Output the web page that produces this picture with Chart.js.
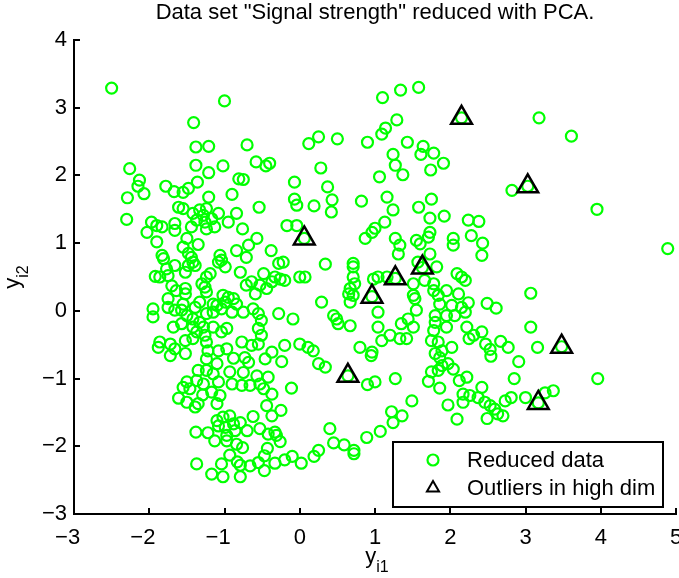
<!DOCTYPE html>
<html>
<head>
<meta charset="utf-8">
<title>Signal strength - PCA</title>
<script src="https://cdn.jsdelivr.net/npm/chart.js@4.4.1/dist/chart.umd.min.js"></script>
<style>
  html, body { margin: 0; padding: 0; background: #fff; }
  #wrap { width: 679px; height: 578px; }
</style>
</head>
<body>
<div id="wrap"><canvas id="pcaChart" width="679" height="578"></canvas></div>
<script>
// Samples projected on the first two principal components [y_i1, y_i2]
const reduced = [
  [-2.50,3.29],[-1.00,3.10],[-1.41,2.78],[-1.38,2.42],[-1.21,2.43],[-0.70,2.45],[-2.26,2.10],[-2.13,1.93],
  [-2.15,1.84],[-2.07,1.73],[-2.29,1.67],[-1.38,2.15],[-1.02,2.14],[-1.21,2.04],[-1.36,1.90],[-1.78,1.84],
  [-1.67,1.76],[-1.55,1.75],[-1.48,1.81],[-1.21,1.68],[-0.90,1.72],[-0.81,1.95],[-0.75,1.94],[-0.58,2.20],
  [-0.45,2.14],[-0.40,2.18],
  [1.10,3.15],[1.34,3.26],[1.58,3.30],[1.29,2.82],[1.14,2.70],[1.09,2.61],[0.25,2.57],[0.12,2.47],
  [0.50,2.54],[0.90,2.49],[1.43,2.49],[1.64,2.43],[1.61,2.31],[1.78,2.33],[1.91,2.18],[1.74,2.08],
  [1.24,2.31],[1.27,2.15],[1.37,2.01],[1.06,1.98],[0.28,2.11],[0.37,1.83],[-0.07,1.90],[-0.07,1.65],
  [0.43,1.64],[0.82,1.62],[1.16,1.68],[1.75,1.65],
  [3.18,2.85],[3.61,2.58],[2.82,1.78],[3.95,1.50],[4.89,0.92],[2.38,1.32],[2.24,1.34],[2.28,1.11],
  [2.43,1.00],[2.42,0.82],[3.07,0.26],[2.49,0.11],[2.61,0.04],[2.24,0.12],[3.07,-0.24],[2.42,-0.31],
  [2.31,-0.36],[2.25,-0.41],[2.47,-0.49],[2.67,-0.45],[2.77,-0.54],[2.53,-0.57],[2.54,-0.67],[3.16,-0.54],
  [2.91,-0.75],
  [3.96,-1.00],[2.85,-1.00],[2.42,-1.13],[2.37,-1.28],[2.46,-1.35],[2.53,-1.40],[2.59,-1.45],[2.70,-1.55],
  [2.49,-1.59],[2.63,-1.52],[2.73,-1.33],[2.81,-1.28],[3.00,-1.28],[3.37,-1.18],[3.26,-1.21],
  [-0.24,-0.75],[0.25,-0.78],[0.34,-0.83],[-0.42,-0.98],[-0.11,-1.14],[-0.37,-1.23],[-0.44,-1.40],[-0.25,-1.47],
  [-0.37,-1.55],[-0.33,-1.79],[-0.31,-1.84],[-0.26,-1.93],[-0.43,-2.03],[-0.47,-2.14],[-0.47,-2.36],[-0.33,-2.25],
  [-0.20,-2.20],[-0.10,-2.15],[0.02,-2.25],[0.19,-2.15],[0.25,-2.06],[0.40,-1.74],[0.45,-1.95],[0.59,-1.98],
  [0.72,-2.06],[0.72,-2.11],[0.89,-1.87],[1.07,-1.78],[1.24,-1.65],[1.22,-1.49],[1.36,-1.55],[1.49,-1.33],
  [1.27,-1.00],[0.90,-1.09],[1.00,-1.05],[1.71,-1.04],[1.86,-1.14],[1.75,-0.90],[1.84,-0.88],[1.89,-0.81],
  [1.97,-0.78],[2.04,-0.86],[2.12,-1.03],[2.22,-0.98],[2.17,-1.23],[2.26,-1.25],[1.97,-1.39],[2.17,-1.35],
  [2.09,-1.60],[0.95,-0.66],[1.86,-0.69],
  [-1.72,-0.66],[-1.52,-0.63],[-1.24,-0.71],[-1.10,-0.78],[-0.88,-0.70],[-0.73,-0.69],[-0.68,-0.76],[-0.46,-0.71],
  [-1.35,-0.88],[-1.24,-0.88],[-1.15,-0.93],[-0.93,-0.90],[-0.75,-0.91],[-1.37,-1.03],[-1.50,-1.05],[-1.55,-1.13],
  [-1.46,-1.15],[-1.28,-1.08],[-1.08,-1.05],[-0.90,-1.08],[-0.77,-1.10],[-0.66,-1.10],[-0.53,-1.08],[-0.48,-1.15],
  [-1.61,-1.29],[-1.50,-1.35],[-1.39,-1.42],[-1.35,-1.37],[-1.29,-1.24],[-1.17,-1.20],[-1.06,-1.25],[-1.10,-1.37],
  [-0.62,-1.56],[-0.53,-1.74],[-0.42,-1.82],[-1.38,-1.79],[-1.22,-1.80],[-1.10,-1.62],[-1.02,-1.57],[-0.93,-1.55],
  [-1.08,-1.70],[-0.99,-1.72],[-0.88,-1.67],[-0.79,-1.65],[-0.70,-1.77],[-0.86,-1.77],[-1.13,-1.92],[-0.97,-1.84],
  [-0.97,-1.92],[-0.84,-1.97],[-0.76,-2.02],[-0.93,-2.13],[-0.83,-2.23],[-0.79,-2.28],[-0.66,-2.29],[-0.55,-2.24],
  [-1.04,-2.26],[-1.17,-2.41],[-1.02,-2.45],[-0.79,-2.45],[-1.37,-2.26],[-0.57,-0.96],
  [-2.30,1.35],[-0.54,1.53],[-1.61,1.53],[-1.55,1.51],[-1.42,1.44],[-1.33,1.49],[-1.24,1.51],[-1.28,1.41],
  [-1.37,1.34],[-1.26,1.31],[-1.17,1.36],[-1.08,1.44],[-1.13,1.24],[-1.24,1.21],[-1.44,1.24],[-1.66,1.29],
  [-1.66,1.19],[-0.95,1.31],[-0.84,1.44],[-0.76,1.21],[-1.97,1.31],[-1.90,1.26],[-2.03,1.16],[-1.83,1.24],
  [-1.90,1.02],[-1.50,1.07],[-1.55,0.94],[-1.35,0.98],[-1.48,0.85],[-1.83,0.82],[-1.81,0.77],[-1.66,0.67],
  [-1.77,0.62],[-1.92,0.51],[-1.86,0.50],[-1.75,0.52],[-1.70,0.37],[-1.64,0.30],[-1.52,0.33],[-1.52,0.25],
  [-1.44,0.79],[-1.42,0.72],[-1.39,0.67],[-1.48,0.67],[-1.52,0.57],[-1.75,0.18],[-1.75,0.05],[-1.95,0.03],
  [-1.95,-0.09],[-1.66,0.01],[-1.57,0.01],[-1.50,-0.07],[-1.42,-0.12],[-1.68,-0.24],[-1.57,-0.19],[-1.42,-0.24],
  [-1.33,-0.17],[-1.24,-0.04],[-1.15,-0.02],[-1.04,0.03],[-1.28,-0.24],[-1.37,-0.31],[-1.26,-0.36],[-1.24,-0.46],
  [-1.42,-0.41],[-1.52,-0.44],[-1.86,-0.46],[-1.88,-0.54],[-1.72,-0.49],[-1.66,-0.56],[-1.22,-0.59],[-1.08,-0.59],
  [-0.97,-0.56],[-0.77,-0.46],[-0.64,-0.51],[-0.55,-0.49],[-0.51,-0.36],[-0.55,-0.26],[-1.04,-0.31],[-0.97,-0.26],
  [-1.15,-0.24],[-1.10,0.08],[-0.99,0.13],[-0.95,0.20],[-0.88,0.18],[-0.84,0.10],[-0.90,-0.02],[-0.75,-0.02],
  [-1.02,0.23],[-1.24,0.28],[-1.26,0.35],[-1.19,0.55],[-1.08,0.72],[-1.06,0.82],[-1.04,0.75],[-0.99,0.65],
  [-0.84,0.89],[-0.71,0.79],[-0.68,0.97],[-0.57,1.07],[-0.79,0.57],[-0.71,0.38],[-0.64,0.43],[-0.59,0.25],
  [-0.53,0.38],[-0.48,0.55],[-0.38,0.89],[-0.62,0.03],[-0.55,-0.04],[-0.51,-0.14],[-1.33,0.13],[-1.15,0.10],
  [-1.39,0.05],[-1.55,0.10],[-1.30,0.40],[-1.24,0.50],
  [-0.04,1.56],[0.19,1.55],[0.42,1.46],[1.24,1.49],[1.13,1.31],[1.00,1.22],[0.96,1.16],[0.87,1.07],
  [1.58,1.53],[1.73,1.37],[1.92,1.40],[1.73,1.16],[1.71,1.09],[1.60,0.99],[1.55,1.04],[1.27,1.07],
  [1.33,0.97],[1.31,0.84],[1.57,0.72],[1.73,0.84],[1.82,0.65],[2.04,1.07],[2.04,0.97],[2.09,0.55],
  [2.15,0.50],[2.20,0.45],[1.95,0.30],[2.11,0.25],[2.15,0.05],[2.02,0.08],[1.86,0.10],[1.84,0.23],
  [1.78,0.30],[1.78,0.40],[1.66,0.45],[1.51,0.40],[1.51,0.23],[1.53,0.18],[1.55,0.01],[1.44,-0.12],
  [1.35,-0.19],[1.80,-0.07],[1.80,-0.17],[1.78,-0.29],[1.95,-0.07],[1.95,-0.24],[2.06,-0.07],[2.20,-0.02],
  [2.22,-0.24],[2.02,-0.54],[1.84,-0.46],[1.75,-0.44],[1.80,-0.63],[1.89,-0.59],[1.04,-0.02],[1.04,-0.24],
  [1.09,-0.44],[1.20,-0.36],[1.33,-0.41],[1.42,-0.41],[0.80,-0.54],[0.96,-0.61],[0.67,-0.22],[0.49,-0.12],
  [0.51,-0.19],[0.29,0.13],[0.67,0.13],[0.71,0.23],[0.67,0.33],[0.73,0.40],[0.71,0.50],[0.71,0.65],
  [0.71,0.70],[0.98,0.47],[1.04,0.50],[1.16,0.50],[0.34,0.69],[-0.28,0.70],[-0.22,0.72],[-0.26,0.47],
  [-0.33,0.50],[-0.37,0.43],[-0.44,0.33],[-0.20,0.45],[0.00,0.50],[0.07,0.50],[-0.17,1.26],[-0.04,1.26],
  [-0.28,-0.04],[-0.09,-0.12],[0.45,-0.07],[0.65,0.25],[-0.20,-0.51],[0.00,-0.49],[0.11,-0.54],[0.18,-0.59],
  [-0.37,-0.61],[1.51,-0.24]
];

// Samples that were flagged as outliers in the original high dimensional space
const outliers = [
  [0.06,1.07],[2.15,2.85],[3.03,1.84],[1.27,0.48],[1.63,0.64],
  [0.96,0.21],[0.64,-0.96],[3.48,-0.53],[3.17,-1.36]
];

const xTicks = [-3, -2, -1, 0, 1, 2, 3, 4, 5];
const yTicks = [-3, -2, -1, 0, 1, 2, 3, 4];
const seriesNames = ['Reduced data', 'Outliers in high dim'];
const titleText = 'Data set "Signal strength" reduced with PCA.';

const FONT = "'Liberation Sans', Arial, Helvetica, sans-serif";
const FONT_SIZE = 22;
const SUB_SIZE = 16;
const GREEN = '#00ff00';

const toXY = p => ({ x: p[0], y: p[1] });
const minusLabel = v => (v < 0 ? '\u2212' + Math.abs(v) : String(v));

// text with a subscript, e.g. y_i1
function subText(ctx, base, sub, x, y) {
  ctx.font = FONT_SIZE + 'px ' + FONT;
  const wb = ctx.measureText(base).width;
  ctx.font = SUB_SIZE + 'px ' + FONT;
  const ws = ctx.measureText(sub).width;
  const start = x - (wb + ws) / 2;
  ctx.textAlign = 'left';
  ctx.textBaseline = 'alphabetic';
  ctx.font = FONT_SIZE + 'px ' + FONT;
  ctx.fillText(base, start, y);
  ctx.font = SUB_SIZE + 'px ' + FONT;
  ctx.fillText(sub, start + wb, y + 9);
}

const matlabLook = {
  id: 'matlabLook',
  beforeDraw(chart) {
    const ctx = chart.ctx;
    ctx.save();
    ctx.fillStyle = '#fff';
    ctx.fillRect(0, 0, chart.width, chart.height);
    ctx.restore();
  },
  afterDraw(chart) {
    const { ctx, chartArea: a, scales: { x, y } } = chart;
    ctx.save();

    // tick marks pointing into the axes
    ctx.strokeStyle = '#000';
    ctx.lineWidth = 2;
    ctx.beginPath();
    xTicks.forEach(v => {
      const px = Math.round(x.getPixelForValue(v));
      ctx.moveTo(px, a.bottom);
      ctx.lineTo(px, a.bottom - 6);
    });
    yTicks.forEach(v => {
      const py = Math.round(y.getPixelForValue(v));
      ctx.moveTo(a.left, py);
      ctx.lineTo(a.left + 6, py);
    });
    ctx.stroke();

    ctx.fillStyle = '#000';
    ctx.font = FONT_SIZE + 'px ' + FONT;

    // x tick labels; the last one runs off the right edge of the canvas
    ctx.textAlign = 'center';
    ctx.textBaseline = 'middle';
    xTicks.forEach(v => {
      const label = minusLabel(v);
      const shift = v < 0 ? -ctx.measureText('\u2212').width / 2 : 0;
      ctx.fillText(label, x.getPixelForValue(v) + shift, a.bottom + 24);
    });

    // title
    ctx.fillText(titleText, (a.left + a.right) / 2, 13);

    // axis labels
    subText(ctx, 'y', 'i1', (a.left + a.right) / 2 + 2, 563);
    ctx.save();
    ctx.translate(19, (a.top + a.bottom) / 2);
    ctx.rotate(-Math.PI / 2);
    subText(ctx, 'y', 'i2', 0, 0);
    ctx.restore();

    // legend box in the lower right corner
    const lw = 270, lh = 65;
    const lx = a.right - 13 - lw, ly = a.bottom - 7 - lh;
    ctx.fillStyle = '#fff';
    ctx.fillRect(lx, ly, lw, lh);
    ctx.strokeStyle = '#000';
    ctx.lineWidth = 2;
    ctx.strokeRect(lx, ly, lw, lh);

    const mx = lx + 40;
    const row1 = ly + 18, row2 = ly + 46;
    ctx.strokeStyle = GREEN;
    ctx.lineWidth = 2.2;
    ctx.beginPath();
    ctx.arc(mx, row1, 5.5, 0, Math.PI * 2);
    ctx.stroke();

    ctx.strokeStyle = '#000';
    ctx.lineWidth = 2;
    const r = 7;
    ctx.beginPath();
    ctx.moveTo(mx, row2 - r);
    ctx.lineTo(mx + r * Math.sin(Math.PI * 2 / 3), row2 - r * Math.cos(Math.PI * 2 / 3));
    ctx.lineTo(mx - r * Math.sin(Math.PI * 2 / 3), row2 - r * Math.cos(Math.PI * 2 / 3));
    ctx.closePath();
    ctx.stroke();

    ctx.fillStyle = '#000';
    ctx.font = FONT_SIZE + 'px ' + FONT;
    ctx.textAlign = 'left';
    ctx.textBaseline = 'middle';
    ctx.fillText(seriesNames[0], lx + 74, row1 + 1);
    ctx.fillText(seriesNames[1], lx + 74, row2 + 1);

    ctx.restore();
  }
};

new Chart(document.getElementById('pcaChart'), {
  type: 'scatter',
  data: {
    datasets: [
      {
        label: seriesNames[1],
        data: outliers.map(toXY),
        pointStyle: 'triangle',
        pointRadius: 12,
        borderWidth: 2.5,
        borderColor: '#000',
        backgroundColor: 'rgba(0,0,0,0)',
        order: 0
      },
      {
        label: seriesNames[0],
        data: reduced.concat(outliers).map(toXY),
        pointStyle: 'circle',
        pointRadius: 5.5,
        borderWidth: 2.2,
        borderColor: GREEN,
        backgroundColor: 'rgba(0,0,0,0)',
        order: 1
      }
    ]
  },
  options: {
    responsive: false,
    animation: false,
    events: [],
    layout: {
      autoPadding: false,
      padding: { top: 40, right: 3, left: 0, bottom: 0 }
    },
    plugins: {
      legend: { display: false },
      title: { display: false },
      tooltip: { enabled: false }
    },
    scales: {
      x: {
        type: 'linear',
        min: -3,
        max: 5,
        afterBuildTicks: s => { s.ticks = xTicks.map(v => ({ value: v })); },
        afterFit: s => { s.height = 64; },
        grid: { display: false, drawTicks: false },
        border: { display: true, color: '#000', width: 2 },
        ticks: { display: false }
      },
      y: {
        type: 'linear',
        min: -3,
        max: 4,
        afterBuildTicks: s => { s.ticks = yTicks.map(v => ({ value: v })); },
        afterFit: s => { s.width = 74; },
        grid: { display: false, drawTicks: false },
        border: { display: true, color: '#000', width: 2 },
        ticks: {
          color: '#000',
          padding: 7,
          font: { family: FONT, size: FONT_SIZE },
          callback: v => minusLabel(v)
        }
      }
    }
  },
  plugins: [matlabLook]
});
</script>
</body>
</html>
